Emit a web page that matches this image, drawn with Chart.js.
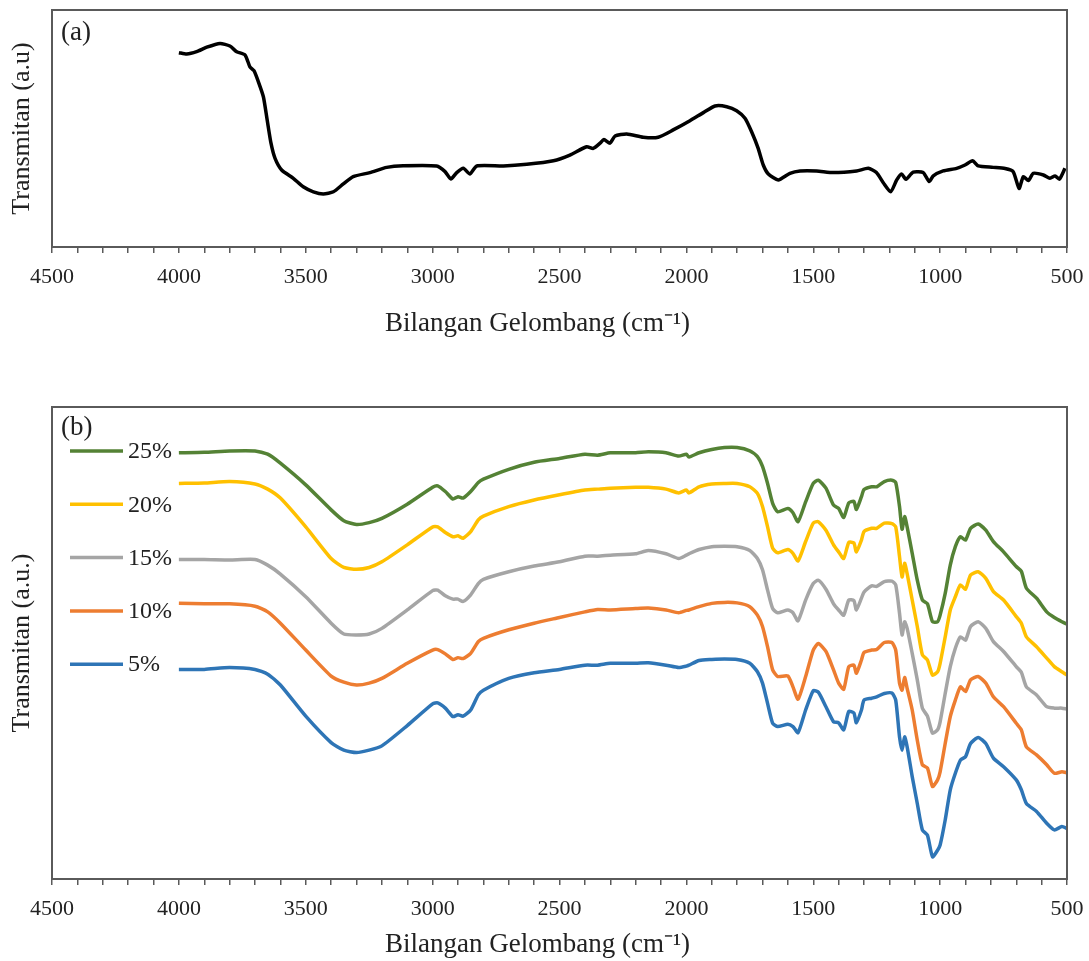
<!DOCTYPE html>
<html>
<head>
<meta charset="utf-8">
<script src="https://cdn.jsdelivr.net/npm/chart.js@4.4.1/dist/chart.umd.min.js"></script>
<style>
  body { margin: 0; background: #fff; }
  canvas { display: block; }
</style>
</head>
<body>
<canvas id="chartA" width="1089" height="345"></canvas>
<canvas id="chartB" width="1089" height="616"></canvas>
<script>
// (a) spectrum, wavenumber (cm-1) vs transmittance (a.u., 0-100 frame)
var wnA = [4000, 3969, 3930, 3890, 3838, 3799, 3772, 3739, 3720, 3704, 3687, 3667, 3652, 3637, 3621, 3595,
  3549, 3510, 3470, 3431, 3391, 3352, 3313, 3247, 3181, 3116, 2984, 2951, 2928, 2905, 2879, 2853, 2826, 2721,
  2629, 2524, 2459, 2393, 2367, 2340, 2325, 2301, 2281, 2235, 2170, 2111, 2052, 1986, 1933, 1887, 1841, 1802,
  1769, 1743, 1717, 1697, 1677, 1638, 1592, 1552, 1487, 1421, 1329, 1283, 1251, 1224, 1195, 1171, 1152, 1135,
  1106, 1067, 1043, 1027, 988, 935, 902, 872, 850, 791, 744, 712, 689, 672, 652, 633, 593, 567, 547, 530, 508];
var transA = [82.0, 81.4, 82.4, 84.3, 85.9, 84.8, 82.4, 81.0, 76.0, 74.4, 69.8, 63.4, 53.6, 43.8, 37.4, 32.5,
  29.0, 25.4, 23.3, 22.4, 23.3, 26.6, 29.7, 31.4, 33.6, 34.3, 34.2, 31.8, 28.7, 31.4, 33.2, 30.8, 34.2, 34.2,
  34.9, 36.4, 38.8, 42.3, 41.6, 43.8, 45.4, 43.8, 46.8, 47.7, 46.3, 46.3, 49.4, 53.3, 56.7, 59.5, 59.2, 57.5,
  54.3, 48.6, 41.6, 34.6, 30.8, 28.3, 31.1, 32.1, 32.1, 31.4, 32.1, 33.2, 31.4, 27.1, 23.3, 28.3, 30.8, 28.6,
  31.6, 31.4, 27.6, 30.0, 32.1, 33.2, 34.6, 36.4, 34.2, 33.6, 33.1, 31.8, 24.7, 29.7, 28.0, 31.1, 30.4, 29.0, 30.0, 28.6, 33.2];

// (b) spectra, one shared wavenumber grid
var wnB = [4000, 3900, 3800, 3700, 3650, 3600, 3500, 3400, 3350, 3300,
  3250, 3200, 3100, 3000, 2980, 2950, 2920, 2900, 2880, 2850,
  2820, 2800, 2700, 2600, 2500, 2400, 2350, 2300, 2200, 2150,
  2080, 2030, 2000, 1990, 1950, 1900, 1850, 1800, 1750, 1720,
  1700, 1680, 1660, 1640, 1600, 1580, 1560, 1530, 1500, 1480,
  1450, 1420, 1400, 1380, 1360, 1340, 1330, 1310, 1300, 1270,
  1250, 1220, 1190, 1175, 1160, 1150, 1140, 1130, 1110, 1090,
  1070, 1050, 1030, 1010, 1000, 980, 960, 940, 920, 900,
  880, 850, 820, 790, 750, 700, 680, 660, 620, 580,
  550, 520, 500];
var t25 = [90.3, 90.4, 90.7, 90.7, 90.0, 88.1, 83.5, 78.2, 75.9, 75.1,
  75.5, 76.4, 79.4, 83.0, 83.3, 82.1, 80.5, 81.0, 80.7, 82.1,
  84.0, 84.7, 86.8, 88.3, 89.1, 90.0, 89.8, 90.3, 90.3, 90.5,
  90.3, 89.6, 90.0, 89.4, 90.3, 91.0, 91.4, 91.4, 90.7, 89.5,
  87.4, 83.8, 79.6, 77.8, 78.5, 77.6, 75.7, 79.9, 83.8, 84.5,
  82.8, 79.2, 78.5, 76.6, 79.7, 80.0, 78.3, 81.0, 82.5, 83.1,
  83.1, 84.2, 84.5, 84.0, 78.9, 74.1, 76.8, 74.6, 69.0, 63.3,
  59.1, 58.3, 54.5, 54.5, 55.9, 60.5, 66.5, 70.4, 72.5, 71.8,
  74.3, 75.2, 73.9, 71.5, 69.3, 66.2, 65.2, 61.6, 59.5, 56.6,
  55.4, 54.5, 54.0];
var t20 = [83.8, 83.9, 84.2, 83.7, 82.6, 80.7, 74.6, 67.9, 66.0, 65.6,
  66.0, 67.2, 70.8, 74.6, 74.6, 73.4, 72.5, 72.7, 72.2, 73.6,
  76.1, 76.9, 78.9, 80.3, 81.4, 82.4, 82.6, 82.8, 83.0, 83.0,
  82.6, 81.8, 82.4, 81.8, 83.1, 83.7, 83.8, 83.8, 83.1, 81.7,
  78.9, 74.6, 70.1, 69.1, 69.8, 69.0, 67.4, 71.5, 75.4, 75.7,
  73.9, 70.8, 69.3, 67.9, 71.3, 71.2, 69.3, 71.8, 73.6, 74.3,
  74.3, 75.4, 75.3, 74.6, 68.3, 64.0, 66.9, 64.7, 59.1, 53.5,
  47.5, 46.4, 43.2, 43.9, 45.7, 51.3, 57.0, 59.8, 62.3, 61.4,
  64.4, 65.1, 63.7, 60.9, 59.1, 55.6, 54.2, 51.3, 49.2, 46.8,
  45.0, 43.9, 43.2];
var t15 = [67.7, 67.7, 67.6, 67.7, 66.5, 64.6, 59.8, 54.2, 51.9, 51.7,
  51.9, 53.1, 57.0, 61.1, 61.2, 60.0, 59.3, 59.3, 58.8, 60.2,
  62.6, 63.5, 65.1, 66.3, 67.2, 68.4, 68.4, 68.6, 68.9, 69.6,
  68.9, 67.9, 68.6, 68.9, 69.8, 70.4, 70.5, 70.4, 69.6, 67.9,
  65.5, 61.2, 57.3, 56.4, 57.0, 56.4, 54.7, 59.1, 62.6, 63.3,
  61.4, 58.3, 57.0, 55.9, 59.1, 59.0, 57.0, 59.5, 60.8, 62.1,
  62.0, 63.0, 63.1, 62.3, 56.3, 51.7, 54.5, 53.1, 47.8, 42.2,
  36.2, 34.5, 30.9, 31.6, 33.3, 39.3, 45.0, 48.9, 51.3, 50.6,
  53.5, 54.5, 53.1, 50.3, 48.2, 45.0, 43.8, 40.7, 39.0, 36.5,
  36.2, 36.2, 36.0];
var t10 = [58.4, 58.3, 58.3, 57.8, 56.6, 54.2, 48.5, 43.0, 41.7, 41.1,
  41.5, 42.5, 45.7, 48.5, 48.6, 47.7, 46.5, 46.9, 46.7, 47.8,
  50.3, 51.0, 52.8, 54.2, 55.4, 56.6, 57.1, 57.0, 57.3, 57.4,
  57.0, 56.4, 56.9, 57.0, 57.7, 58.4, 58.6, 58.5, 57.7, 55.9,
  53.5, 49.2, 44.3, 42.9, 43.0, 40.7, 38.1, 42.9, 48.5, 49.9,
  48.2, 44.3, 41.5, 40.2, 45.0, 45.3, 43.6, 46.4, 48.0, 48.5,
  48.6, 50.1, 50.1, 48.5, 41.5, 40.0, 42.7, 40.4, 35.8, 29.4,
  24.2, 23.5, 19.6, 21.0, 22.7, 28.7, 34.4, 37.9, 40.7, 39.7,
  42.2, 42.9, 41.5, 38.6, 36.5, 33.0, 31.6, 28.0, 26.3, 24.2,
  22.4, 22.7, 22.5];
var t5 = [44.4, 44.4, 44.8, 44.4, 43.4, 41.1, 34.5, 28.9, 27.3, 26.8,
  27.3, 28.2, 32.5, 37.1, 37.3, 36.2, 34.4, 34.8, 34.5, 35.8,
  39.0, 40.0, 42.5, 43.7, 44.4, 45.3, 45.3, 45.7, 45.7, 45.8,
  45.3, 44.8, 45.1, 45.3, 46.3, 46.5, 46.6, 46.5, 45.7, 43.9,
  41.5, 37.2, 33.0, 32.3, 32.8, 32.3, 31.0, 35.8, 39.9, 39.6,
  36.5, 33.3, 33.1, 31.6, 35.5, 35.2, 33.1, 35.8, 37.9, 38.3,
  38.6, 39.3, 39.4, 37.9, 30.1, 27.3, 30.1, 28.0, 21.7, 16.0,
  10.4, 9.3, 4.7, 6.1, 7.2, 12.5, 18.9, 22.4, 25.2, 25.9,
  28.7, 30.0, 28.7, 25.6, 23.8, 21.0, 18.9, 16.0, 14.3, 11.8,
  10.4, 11.1, 10.7];

var seriesLabels = ['25%', '20%', '15%', '10%', '5%'];
var seriesColors = ['#548235', '#FFC000', '#A5A5A5', '#ED7D31', '#2E75B6'];
var seriesValues = [t25, t20, t15, t10, t5];

var FONT = "'Liberation Serif', 'Times New Roman', serif";
var TEXT = '#222222';
var AXIS = '#5a5a5a';
var X_TITLE = 'Bilangan Gelombang (cm⁻¹)';

function toPoints(xs, ys) {
  return xs.map(function(x, i) { return { x: x, y: ys[i] }; });
}

var framePlugin = {
  id: 'frame',
  afterDraw: function(chart) {
    var a = chart.chartArea, ctx = chart.ctx;
    ctx.save();
    ctx.strokeStyle = AXIS;
    ctx.lineWidth = 2;
    ctx.strokeRect(a.left, a.top, a.right - a.left, a.bottom - a.top);
    ctx.restore();
  }
};

// panel tag "(a)"/"(b)" and the x axis title, which sits a bit left of the plot centre
function textPlugin(tag, tagDy, titleDy) {
  return {
    id: 'panelText',
    afterDraw: function(chart) {
      var a = chart.chartArea, ctx = chart.ctx;
      ctx.save();
      ctx.fillStyle = TEXT;
      ctx.textBaseline = 'middle';
      ctx.font = '27px ' + FONT;
      ctx.textAlign = 'left';
      ctx.fillText(tag, a.left + 9, a.top + tagDy);
      ctx.textAlign = 'center';
      ctx.fillText(X_TITLE, (a.left + a.right) / 2 - 22, a.bottom + titleDy);
      ctx.restore();
    }
  };
}

var insideLegend = {
  id: 'insideLegend',
  afterDraw: function(chart) {
    var a = chart.chartArea, ctx = chart.ctx;
    ctx.save();
    chart.data.datasets.forEach(function(ds, i) {
      var y = a.top + 44 + i * 53.3;
      ctx.strokeStyle = ds.borderColor;
      ctx.lineWidth = 3.5;
      ctx.beginPath();
      ctx.moveTo(a.left + 18, y);
      ctx.lineTo(a.left + 71, y);
      ctx.stroke();
      ctx.fillStyle = TEXT;
      ctx.font = '24px ' + FONT;
      ctx.textBaseline = 'middle';
      ctx.fillText(ds.label, a.left + 76, y + 1);
    });
    ctx.restore();
  }
};

function makeOptions(yTitle, xHeight, padTop) {
  return {
    responsive: false,
    animation: false,
    layout: { padding: { top: padTop, right: 22, bottom: 0, left: 0 } },
    plugins: { legend: { display: false }, tooltip: { enabled: false } },
    elements: { point: { radius: 0 }, line: { tension: 0.2 } },
    scales: {
      x: {
        type: 'linear', reverse: true, min: 500, max: 4500,
        afterBuildTicks: function(s) {
          var t = [];
          for (var v = 500; v <= 4500; v += 100) t.push({ value: v });
          s.ticks = t;
        },
        ticks: {
          autoSkip: false, maxRotation: 0, padding: 11, color: TEXT,
          font: { family: FONT, size: 22 },
          callback: function(v) { return v % 500 === 0 ? String(v) : ''; }
        },
        grid: { drawOnChartArea: false, drawTicks: true, tickLength: 6, color: AXIS, lineWidth: 1.5 },
        border: { color: AXIS, width: 2 },
        title: { display: false },
        afterFit: function(s) { s.height = xHeight; }
      },
      y: {
        min: 0, max: 100,
        ticks: { display: false },
        grid: { display: false },
        border: { color: AXIS, width: 2 },
        title: {
          display: true, text: yTitle, color: TEXT,
          font: { family: FONT, size: 26 }, padding: { top: 7, bottom: 0 }
        },
        afterFit: function(s) { s.width = 52; }
      }
    }
  };
}

new Chart(document.getElementById('chartA'), {
  type: 'line',
  data: {
    datasets: [{
      label: 'Spektrum',
      data: toPoints(wnA, transA),
      borderColor: '#000000',
      borderWidth: 3.5,
      fill: false
    }]
  },
  options: makeOptions('Transmitan (a.u)', 98, 10),
  plugins: [framePlugin, textPlugin('(a)', 23, 77)]
});

new Chart(document.getElementById('chartB'), {
  type: 'line',
  data: {
    datasets: seriesLabels.map(function(lbl, i) {
      return {
        label: lbl,
        data: toPoints(wnB, seriesValues[i]),
        borderColor: seriesColors[i],
        borderWidth: 3.5,
        fill: false
      };
    })
  },
  options: makeOptions('Transmitan (a.u.)', 82, 62),
  plugins: [framePlugin, textPlugin('(b)', 21, 66), insideLegend]
});
</script>
</body>
</html>
